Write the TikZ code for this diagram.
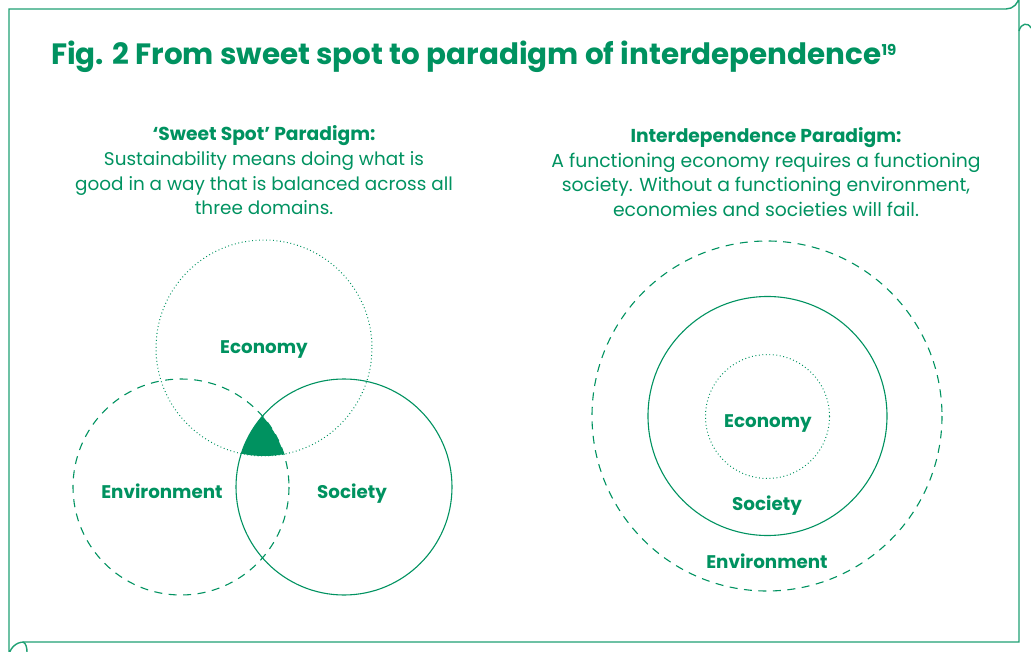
\documentclass[tikz,border=0pt]{standalone}
\usepackage{fontspec}
\setmainfont{Poppins}
\definecolor{gr}{RGB}{0,146,96}
\definecolor{frm}{RGB}{30,160,115}
\begin{document}
\begin{tikzpicture}[x=1pt,y=-1pt,
  txt/.style={text=gr,inner sep=0pt,align=center},
  lbl/.style={text=gr,inner sep=0pt,anchor=base,font=\fontsize{18.3}{20}\selectfont\bfseries},
  ring/.style={draw=gr,line width=1.1pt},
  dotring/.style={draw=gr,line width=1pt,dash pattern=on 0.9pt off 2.6pt},
  dashring/.style={draw=gr,line width=1.1pt,dash pattern=on 8pt off 6.5pt}]
\useasboundingbox (0,0) rectangle (1031,652);
% frame
\draw[frm,line width=1.4pt] (9,9) -- (1006,9) arc[start angle=90,end angle=0,radius=13] -- (1019,642) -- (24,642) arc[start angle=270,end angle=180,radius=15] -- cycle;
\draw[frm,line width=1.4pt] (1019,31) .. controls (1021,23) and (1028,22) .. (1031,28);
\draw[frm,line width=1.4pt] (23,642) .. controls (26,643) and (27,648) .. (27,652);
% title
\node[txt,anchor=base west] (title) at (51,65) {\fontsize{29.4}{32}\selectfont\bfseries Fig. 2 From sweet spot to paradigm of interdependence\raisebox{9pt}{\fontsize{15}{16}\selectfont 19}};
% left text
\node[txt,anchor=base] (lt1) at (264,141) {\fontsize{18.7}{20}\selectfont\bfseries ‘Sweet Spot’ Paradigm:};
\node[txt,anchor=base] (lt2) at (264,166) {\fontsize{18.4}{20}\selectfont Sustainability means doing what is};
\node[txt,anchor=base] (lt3) at (264,190.5) {\fontsize{18.4}{20}\selectfont good in a way that is balanced across all};
\node[txt,anchor=base] (lt4) at (264,215) {\fontsize{18.4}{20}\selectfont three domains.};
% right text
\node[txt,anchor=base] (rt1) at (766,143) {\fontsize{18.7}{20}\selectfont\bfseries Interdependence Paradigm:};
\node[txt,anchor=base] (rt2) at (766,167.5) {\fontsize{18.8}{20}\selectfont A functioning economy requires a functioning};
\node[txt,anchor=base] (rt3) at (766,192) {\fontsize{18.8}{20}\selectfont society. Without a functioning environment,};
\node[txt,anchor=base] (rt4) at (766,216.5) {\fontsize{18.8}{20}\selectfont economies and societies will fail.};
% left venn: sweet spot
\begin{scope}
\clip (264,348) circle[radius=108];
\clip (181,487) circle[radius=108];
\fill[gr] (344,487) circle[radius=108];
\end{scope}
\draw[dotring] (264,348) circle[radius=108];
\draw[dashring] (181,487) circle[radius=108];
\draw[ring] (344,487) circle[radius=108];
\node[lbl] (eco1) at (264,353) {Economy};
\node[lbl] (env1) at (162,498) {Environment};
\node[lbl] (soc1) at (352,498) {Society};
% right nested
\draw[dashring] (767,416) circle[radius=175];
\draw[ring] (767.5,416) circle[radius=119.5];
\draw[dotring] (767.5,416.5) circle[radius=62];
\node[lbl] (eco2) at (768,427) {Economy};
\node[lbl] (soc2) at (767,510) {Society};
\node[lbl] (env2) at (767,568) {Environment};
\end{tikzpicture}
\end{document}
